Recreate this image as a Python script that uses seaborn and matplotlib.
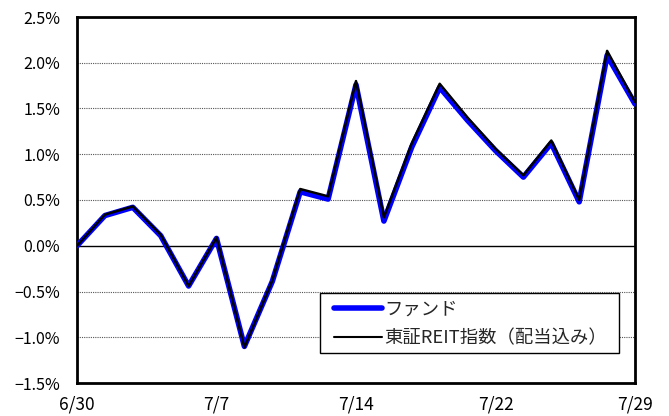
import matplotlib
matplotlib.use("Agg")
import matplotlib.pyplot as plt
import seaborn as sns
import pandas as pd
from matplotlib.ticker import FuncFormatter
from matplotlib.patches import Rectangle

dates = ["6/30", "7/1", "7/2", "7/3", "7/4", "7/7", "7/8", "7/9", "7/10", "7/11",
         "7/14", "7/15", "7/16", "7/17", "7/18", "7/22", "7/23", "7/24", "7/25",
         "7/28", "7/29"]
fund = [0.00, 0.33, 0.42, 0.11, -0.44, 0.08, -1.10, -0.39, 0.59, 0.51, 1.76,
        0.27, 1.08, 1.73, 1.37, 1.04, 0.75, 1.12, 0.48, 2.08, 1.55]
index_vals = [0.00, 0.34, 0.43, 0.12, -0.44, 0.09, -1.11, -0.38, 0.62, 0.54, 1.80,
              0.31, 1.12, 1.77, 1.40, 1.06, 0.77, 1.15, 0.50, 2.13, 1.57]
tick_labels = ["6/30", "7/7", "7/14", "7/22", "7/29"]
y_ticks = [-1.5, -1.0, -0.5, 0.0, 0.5, 1.0, 1.5, 2.0, 2.5]
series_names = ["ファンド", "東証REIT指数（配当込み）"]

sns.set_theme(style="white")
plt.rcParams['font.family'] = ['Noto Sans CJK JP', 'DejaVu Sans']

df = pd.DataFrame({"pos": list(range(len(dates))), "date": dates,
                   "fund": fund, "index": index_vals})

W, H = 669, 416
fig = plt.figure(figsize=(W / 100, H / 100), dpi=100)
ax = fig.add_axes([77/W, 1-383/H, (635-77)/W, (383-17)/H])

for y in y_ticks:
    if y == 0.0:
        ax.axhline(y, color="black", lw=1.0, zorder=1)
    else:
        ax.axhline(y, color="#555555", lw=0.8, ls=(0, (1, 1)), zorder=1)

sns.lineplot(data=df, x="pos", y="fund", ax=ax, color="#0000FF", lw=4.0,
             label=series_names[0], zorder=3)
sns.lineplot(data=df, x="pos", y="index", ax=ax, color="black", lw=1.8,
             label=series_names[1], zorder=4)

ax.set_xlim(0, len(dates) - 1)
ax.set_ylim(-1.5, 2.5)
ax.set_yticks(y_ticks)
ax.yaxis.set_major_formatter(FuncFormatter(lambda v, p: f"{v:.1f}%".replace("-", "\u2212")))
tick_pos = [dates.index(t) for t in tick_labels]
ax.set_xticks(tick_pos)
ax.set_xticklabels(tick_labels)
ax.set_xlabel("")
ax.set_ylabel("")
ax.tick_params(axis="both", length=0, labelsize=11.5, colors="black")
ax.tick_params(axis="y", pad=12)
ax.tick_params(axis="x", pad=9, labelsize=12.5)
for s in ax.spines.values():
    s.set_visible(True)
    s.set_color("black")
    s.set_linewidth(2.0)

# legend frame
ax.add_patch(Rectangle((320/W, 1-353/H), 299/W, 60/H, transform=fig.transFigure,
                       facecolor="white", edgecolor="black", lw=1.0,
                       clip_on=False, zorder=6))
leg = ax.legend(loc="center left", bbox_to_anchor=(334/W, 1-324/H),
                bbox_transform=fig.transFigure, fontsize=13.2, frameon=False,
                handlelength=2.6, borderpad=0, borderaxespad=0,
                labelspacing=0.62, handletextpad=0.15)
leg.set_zorder(7)
leg.legend_handles[0].set_linewidth(4.0)
leg.legend_handles[1].set_linewidth(1.5)

fig.savefig("out.png", dpi=100)
